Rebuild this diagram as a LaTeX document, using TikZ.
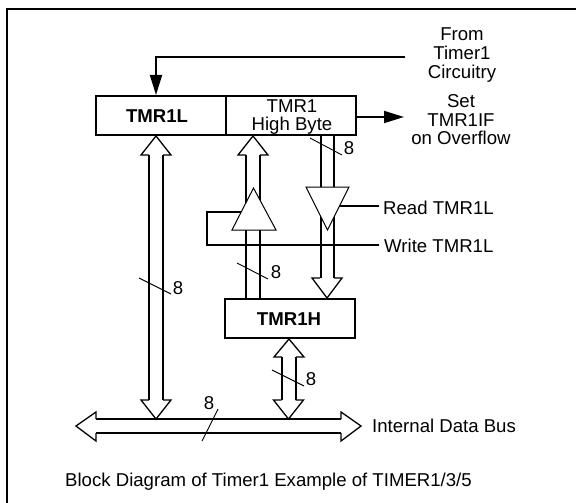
\documentclass[tikz,border=0pt]{standalone}
\usepackage{fontspec}
\setmainfont{Liberation Sans}
\usetikzlibrary{arrows.meta}
\newcommand{\vhead}[3]{\draw[headline] ({#1-7},#3)--({#1-15},#3)--(#1,#2)--({#1+15},#3)--({#1+7},#3);}
\begin{document}
\begin{tikzpicture}[x=1pt,y=-1pt,
  wire/.style={line width=2pt,line cap=butt},
  headline/.style={line width=1.3pt,line join=miter},
  tick/.style={line width=0.9pt},
  gatetri/.style={line width=1pt,fill=white,line join=miter},
  solidarrow/.style={line width=1.9pt,-{Triangle[length=20pt,width=12pt]}},
  cell/.style={draw,line width=2pt,minimum width=130pt,minimum height=39pt,inner sep=0pt,align=center},
  lbl/.style={inner sep=0pt,align=center,font=\fontsize{18.6}{17.5}\selectfont},
  blbl/.style={lbl,font=\fontsize{18.6}{19}\selectfont\bfseries},
  baselbl/.style={lbl,anchor=base west}]
\useasboundingbox (0,0) rectangle (576,503);
% frame
\draw[line width=2pt] (7,503) -- (7,9) -- (576,9);

% boxes
\node[cell] (low) at (161,115.5) {};
\node[cell] (high) at (291,115.5) {};
\node[cell] (hreg) at (290,318.5) {};
\node[blbl] (lowt) at (157,116) {TMR1L};
\node[lbl] (hight) at (292,117) {TMR1\\High Byte};
\node[blbl] (hregt) at (289,319) {TMR1H};

% named ends
\coordinate (timerstart) at (405,57);
\coordinate (timerin) at (156,95);
\coordinate (ovfstart) at (356,117);
\coordinate (ovfend) at (404,117);

\draw[solidarrow] (timerstart) -| (timerin);
\draw[solidarrow] (ovfstart) -- (ovfend);

% shafts
\draw[wire] (149,155) -- (149,400) (163,155) -- (163,400);
\draw[wire] (246,155) -- (246,299) (260,155) -- (260,299);
\draw[wire] (321,135) -- (321,278) (334,135) -- (334,278);
\draw[wire] (282,357) -- (282,400) (296,357) -- (296,400);
% data bus
\draw[wire] (96,419) -- (341,419) (96,433) -- (341,433);

% control wires
\coordinate (rdend) at (379,206);
\coordinate (wrend) at (379,245);
\draw[wire] (rdend) -- (335,206);
\draw[wire] (wrend) -- (207,245) -- (207,212) -- (245,212);

% bus heads
\vhead{156}{136}{155}
\vhead{156}{419}{400}
\vhead{253}{136}{155}
\vhead{327}{298}{278}
\vhead{289}{339}{357}
\vhead{288.5}{419}{400}
\draw[headline] (96,419) -- (96,412) -- (76,426) -- (96,441) -- (96,433);
\draw[headline] (341,419) -- (341,412) -- (361,426) -- (341,441) -- (341,433);

% tri-state buffers
\draw[gatetri] (253.5,188) -- (276,230) -- (232,230) -- cycle;
\draw[gatetri] (306,187) -- (349,187) -- (327.5,230) -- cycle;

% bus width ticks
\draw[tick] (139,278) -- (171,294);
\draw[tick] (237,263) -- (268,279);
\draw[tick] (310,138) -- (342,155);
\draw[tick] (272,370) -- (304,386);
\draw[tick] (218,409) -- (202,441);
\node[lbl] (w1) at (178,288) {8};
\node[lbl] (w2) at (276,272) {8};
\node[lbl] (w3) at (349,148) {8};
\node[lbl] (w4) at (311,379) {8};
\node[lbl] (w5) at (209,403) {8};

% labels
\node[lbl,font=\fontsize{18.6}{19}\selectfont] (from) at (462,55) {From\\Timer1\\Circuitry};
\node[lbl,font=\fontsize{18.6}{18.5}\selectfont] (setif) at (461,120) {Set\\TMR1IF\\on Overflow};
\node[baselbl] (rd) at (383,214.5) {Read TMR1L};
\node[baselbl] (wr) at (384,252.5) {Write TMR1L};
\node[baselbl] (bus) at (372,432.5) {Internal Data Bus};
\node[baselbl] (cap) at (65,486.5) {Block Diagram of Timer1 Example of TIMER1/3/5};
\end{tikzpicture}
\end{document}
